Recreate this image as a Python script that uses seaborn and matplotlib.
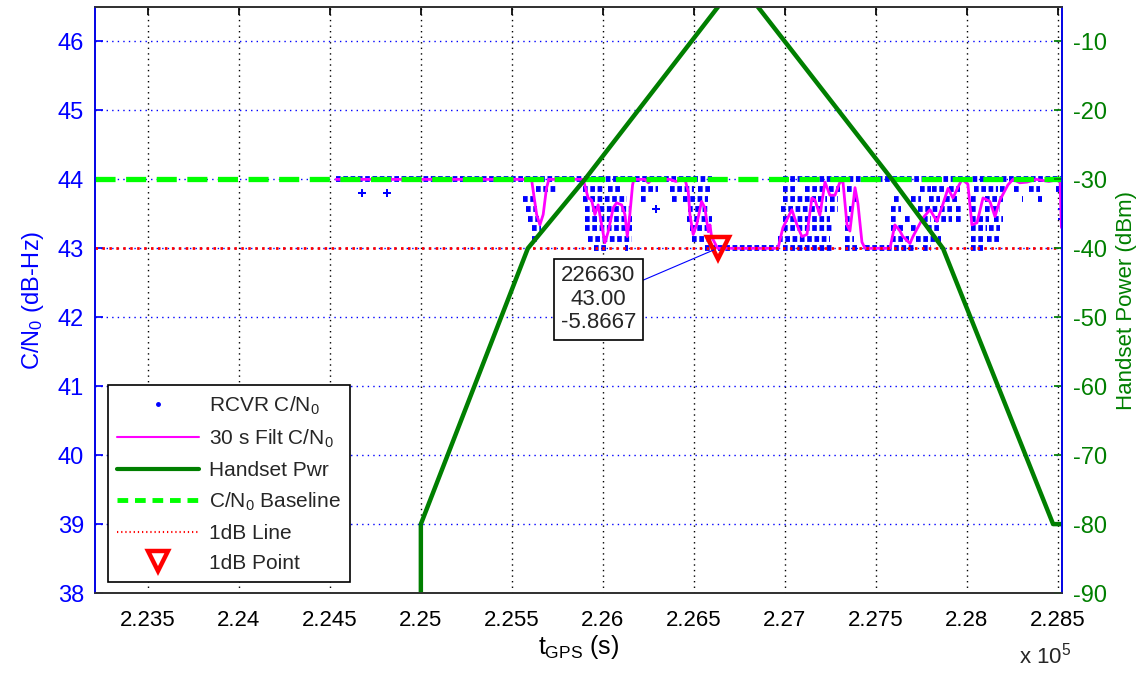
import matplotlib
matplotlib.use("Agg")
import matplotlib.pyplot as plt
import seaborn as sns
from matplotlib.lines import Line2D

# ---- data ----
# receiver C/N0 samples, drawn as streaks of dots per quantised level: [t_start, t_end]
dot_levels = [44.0, 43.86, 43.71, 43.57, 43.43, 43.29, 43.14, 43.0]
dot_streaks = [
    [[224535, 226600], [226990, 228515]],
    [[225630, 225750], [225890, 226010], [226030, 226100], [226210, 226300], [226370, 226500],
     [226520, 226590], [226990, 227060], [227110, 227210], [227240, 227300], [227340, 227370],
     [227740, 227800], [227810, 227880], [227900, 227960], [228040, 228170], [228180, 228210],
     [228260, 228290], [228340, 228400], [228490, 228510]],
    [[225560, 225620], [225890, 226130], [226210, 226240], [226380, 226420], [226440, 226580],
     [226990, 227170], [227180, 227230], [227250, 227290], [227380, 227400], [227600, 227640],
     [227690, 227750], [227790, 227850], [227880, 227950], [228020, 228060], [228100, 228200],
     [228300, 228310], [228390, 228410]],
    [[225580, 225640], [225900, 226150], [226470, 226580], [226980, 227230], [227250, 227290],
     [227350, 227370], [227580, 227640], [227730, 227840], [227850, 227920], [227940, 227970],
     [228020, 228060], [228100, 228180]],
    [[225590, 225650], [225900, 226160], [226460, 226600], [226990, 227250], [227330, 227370],
     [227580, 227620], [227660, 227700], [227760, 227800], [227820, 227920], [227940, 227980],
     [228020, 228120], [228150, 228200]],
    [[225610, 225660], [225900, 226160], [226480, 226600], [226990, 227260], [227330, 227370],
     [227580, 227660], [227690, 227720], [227780, 227860], [228020, 228110], [228120, 228180]],
    [[225610, 225650], [225920, 226160], [226490, 226600], [226960, 227250], [227330, 227380],
     [227580, 227680], [227720, 227860], [228020, 228100], [228110, 228180]],
    [[225950, 226020], [226120, 226140], [226560, 226620], [226630, 226970], [226990, 227270],
     [227330, 227400], [227440, 227720], [227760, 227800], [228020, 228100]],
]
lone_t = [224676, 224813, 226290, 228520, 228520]
lone_cn0 = [43.8, 43.8, 43.57, 43.57, 43.43]

# 30 s filtered C/N0
filt_t = [224535, 225608, 225636, 225654, 225672, 225690, 225703, 225892, 225919, 225938,
          225956, 225974, 225993, 226011, 226029, 226057, 226075, 226103, 226121, 226134,
          226148, 226163, 226170, 226230, 226250, 226270, 226368, 226400, 226451, 226469,
          226478, 226496, 226515, 226542, 226560, 226579, 226588, 226597, 226630, 226962,
          226989, 227038, 227066, 227093, 227121, 227148, 227165, 227192, 227220, 227247,
          227275, 227302, 227319, 227341, 227357, 227385, 227401, 227423, 227440, 227577,
          227604, 227632, 227648, 227687, 227703, 227758, 227797, 227835, 227863, 227896,
          227923, 227951, 227973, 228005, 228027, 228055, 228088, 228126, 228154, 228181,
          228225, 228253, 228290, 228330, 228380, 228450, 228511, 228519]
filt_cn0 = [44.0, 44.0, 43.49, 43.34, 43.49, 43.87, 44.0, 44.0, 43.73, 43.70,
            43.49, 43.63, 43.34, 43.08, 43.24, 43.59, 43.66, 43.63, 43.49, 43.17,
            43.49, 43.92, 44.0, 44.0, 43.95, 44.0, 44.0, 43.97, 44.0, 43.82,
            43.49, 43.20, 43.34, 43.68, 43.59, 43.24, 43.34, 43.17, 43.0, 43.0,
            43.30, 43.56, 43.34, 43.17, 43.20, 43.73, 43.70, 43.48, 43.96, 43.77,
            43.77, 43.96, 43.96, 43.34, 43.25, 43.88, 43.65, 43.09, 43.0, 43.0,
            43.34, 43.25, 43.17, 43.07, 43.17, 43.44, 43.56, 43.39, 43.60, 43.87,
            43.73, 43.89, 44.0, 43.93, 43.34, 43.37, 43.73, 43.68, 43.46, 43.70,
            43.92, 44.0, 43.95, 43.96, 44.0, 43.97, 44.0, 43.30]

# handset transmit power (dBm)
pwr_t = [225000, 225000, 225588, 225901, 226632, 226742, 226852, 227588, 227868, 228473, 228522]
pwr_dbm = [-90, -80, -40, -30, -5, -1, -5, -30, -40, -80, -80]

baseline_cn0 = 44.0
onedb_cn0 = 43.0
pt_t, pt_cn0, pt_pwr = 226630, 43.00, -5.8667

x_ticks = [223500, 224000, 224500, 225000, 225500, 226000, 226500, 227000, 227500, 228000, 228500]
x_labels = ["2.235", "2.24", "2.245", "2.25", "2.255", "2.26", "2.265", "2.27", "2.275", "2.28", "2.285"]

# ---- styling ----
sns.set_theme(style="white")
plt.rcParams["font.family"] = ["Liberation Sans", "DejaVu Sans"]
plt.rcParams["mathtext.fontset"] = "custom"
plt.rcParams["mathtext.rm"] = "Liberation Sans"
plt.rcParams["mathtext.it"] = "Liberation Sans"
plt.rcParams["axes.unicode_minus"] = False

BLUE = "#0000FF"
MAG = "#FF00FF"
DKGREEN = "#007F00"
LIME = "#00FF00"
RED = "#FF0000"

fig = plt.figure(figsize=(11.46, 6.77), dpi=100)
ax = fig.add_axes([0.0829, 0.124, 0.8438, 0.8657])
ax2 = ax.twinx()

xmin, xmax = 223210, 228522
ax.set_xlim(xmin, xmax)
ax.set_ylim(38, 46.5)
ax2.set_ylim(-90, -5)

# grid
ax.yaxis.grid(True, color=BLUE, linestyle=(0, (1, 3)), linewidth=1.0)
ax.xaxis.grid(True, color="black", linestyle=(0, (1, 3)), linewidth=1.0)
ax.set_axisbelow(True)

# dots
for lvl, streaks in zip(dot_levels, dot_streaks):
    for t0, t1 in streaks:
        ax.plot([t0, t1], [lvl, lvl], color=BLUE, lw=4.2, ls=(0, (0.8, 0.45)), zorder=2)
sns.scatterplot(x=lone_t, y=lone_cn0, ax=ax, color=BLUE, marker="P", s=30, linewidth=0, zorder=2)

# filtered
sns.lineplot(x=filt_t, y=filt_cn0, ax=ax, color=MAG, lw=2.0, estimator=None, sort=False, zorder=3)

# baseline & 1dB line
ax.plot([xmin, xmax], [baseline_cn0, baseline_cn0], color=LIME, lw=3.8, ls=(0, (3.8, 2.0)), zorder=4)
ax.plot([xmin, xmax], [onedb_cn0, onedb_cn0], color=RED, lw=2.0, ls=(0, (0.9, 1.6)), zorder=5)

# 1 dB point
ax.plot([pt_t], [pt_cn0], marker="v", ms=16, mfc="none", mec=RED, mew=3.2, ls="none", zorder=7)
ax.annotate(f"{pt_t}\n{pt_cn0:.2f}\n{pt_pwr}", xy=(pt_t, pt_cn0), xytext=(225975, 42.26),
            ha="center", va="center", fontsize=16, linespacing=1.15,
            bbox=dict(boxstyle="square,pad=0.3", fc="white", ec="black", lw=1.2),
            arrowprops=dict(arrowstyle="-", color=BLUE, lw=0.8, shrinkA=0, shrinkB=3),
            zorder=8)

# handset power on right axis
sns.lineplot(x=pwr_t, y=pwr_dbm, ax=ax2, color=DKGREEN, lw=3.2, estimator=None, sort=False)

# axes cosmetics
ax.set_xticks(x_ticks)
ax.set_xticklabels(x_labels)
ax.set_yticks(range(38, 47))
ax2.set_yticks(range(-90, 0, 10))
ax.tick_params(axis="x", direction="in", length=6, colors="black", labelsize=16, pad=12, top=True)
ax.tick_params(axis="y", direction="in", length=6, color=BLUE, labelcolor=BLUE, labelsize=17, pad=8)
ax2.tick_params(axis="y", direction="in", length=6, color=DKGREEN, labelcolor=DKGREEN, labelsize=17, pad=8)
for sp in ("top", "bottom"):
    ax2.spines[sp].set_color("#333333")
ax2.spines["left"].set_color(BLUE)
ax2.spines["right"].set_color(BLUE)
ax.set_xlabel(r"$t_{\mathrm{GPS}}$ (s)", fontsize=18, color="black", labelpad=2)
ax.set_ylabel(r"C/N$_0$ (dB-Hz)", fontsize=17, color=BLUE, labelpad=8)
ax2.set_ylabel("Handset Power (dBm)", fontsize=16, color=DKGREEN, labelpad=6)
ax2.grid(False)
fig.text(0.912, 0.012, r"x 10$^5$", fontsize=16, ha="center", va="bottom")

# legend
handles = [
    Line2D([], [], color=BLUE, marker=".", ms=5, ls="none"),
    Line2D([], [], color=MAG, lw=1.5),
    Line2D([], [], color=DKGREEN, lw=3),
    Line2D([], [], color=LIME, lw=3.5, ls=(0, (2.2, 1.4))),
    Line2D([], [], color=RED, lw=1.5, ls=(0, (0.6, 1.4))),
    Line2D([], [], color=RED, marker="v", ms=14, mfc="none", mew=3.2, ls="none"),
]
labels = [r"RCVR C/N$_0$", r"30 s Filt C/N$_0$", "Handset Pwr", r"C/N$_0$ Baseline", "1dB Line", "1dB Point"]
leg = ax2.legend(handles, labels, loc="lower left", bbox_to_anchor=(0.0134, 0.0188), fontsize=15,
                 frameon=True, fancybox=False, edgecolor="black", framealpha=1,
                 handlelength=3.9, handletextpad=0.5, labelspacing=0.52, borderpad=0.45,
                 borderaxespad=0)
leg.get_frame().set_linewidth(1.2)
leg.set_zorder(20)

fig.savefig("out.png", dpi=100)
